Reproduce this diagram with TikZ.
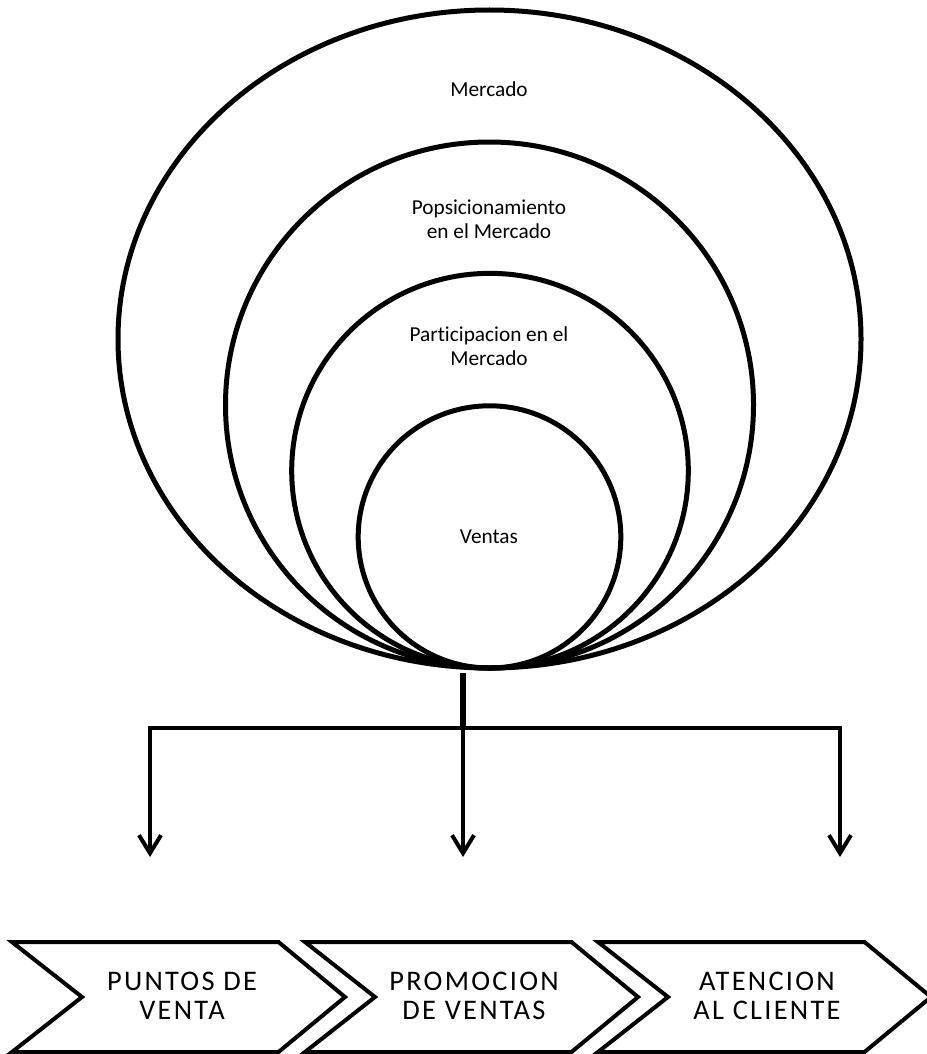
\documentclass[tikz,border=0pt]{standalone}
\usepackage{fontspec}
\setmainfont{Carlito}[Ligatures=NoCommon]
\newfontfamily\chevfont[LetterSpace=8,Ligatures=NoCommon]{Carlito}
\usetikzlibrary{arrows.meta,shapes.geometric}

\begin{document}
\begin{tikzpicture}[x=1pt,y=-1pt,
  ring/.style={draw, ellipse, line width=5pt, inner sep=0pt, outer sep=0pt},
  lbl/.style={font=\fontsize{21.3}{23.5}\selectfont, align=center, anchor=base, inner sep=0pt},
  link/.style={line width=4pt, line join=miter},
  trunk/.style={line width=6pt},
  barb/.tip={Straight Barb[length=18pt,width=22pt]},
  chevtext/.style={font=\chevfont\fontsize{28.4}{29}\selectfont, align=center, anchor=base, inner sep=0pt},
  chevron/.pic={\draw[line width=4pt, line join=miter]
      (0,0) -- (266.5,0) -- (333,55) -- (266.5,110) -- (0,110) -- (70,55) -- cycle;}
]
\useasboundingbox (0,0) rectangle (926,1054);

% nested rings, all touching at the bottom
\node[ring, minimum width=743pt, minimum height=658pt]   (mercadoRing) at (489.5,339) {};
\node[ring, minimum width=528pt, minimum height=526pt]   (posRing)     at (489.5,405) {};
\node[ring, minimum width=396.6pt, minimum height=394.7pt] (partRing)  at (490,470.7) {};
\node[ring, minimum width=262.6pt, minimum height=262.2pt] (ventasRing) at (489.5,536.9) {};

% ring labels (base = baseline of the last line)
\node[lbl] (mercado) at (489,97)  {Mercado};
\node[lbl] (posic)   at (489,238) {Popsicionamiento\\en el Mercado};
\node[lbl] (partic)  at (489,365) {Participacion en el\\Mercado};
\node[lbl] (ventas)  at (489,543) {Ventas};

% branching connector
\coordinate (hub)   at (463,673);
\coordinate (split) at (463,728);
\coordinate (bl)    at (150,728);
\coordinate (br)    at (840,728);
\coordinate (al)    at (150,857);
\coordinate (am)    at (463,857);
\coordinate (ar)    at (840,857);

\draw[trunk] (hub) -- (split);
\draw[link, -barb] (split) -- (am);
\draw[link, barb-barb] (al) -- (bl) -- (br) -- (ar);

% process chevrons
\pic at (12,942)  {chevron};
\pic at (305,942) {chevron};
\pic at (598,942) {chevron};

\node[chevtext] (puntos)   at (182,1019) {PUNTOS DE\\VENTA};
\node[chevtext] (promo)    at (474,1019) {PROMOCION\\DE VENTAS};
\node[chevtext] (atencion) at (767,1019) {ATENCION\\AL CLIENTE};
\end{tikzpicture}
\end{document}
